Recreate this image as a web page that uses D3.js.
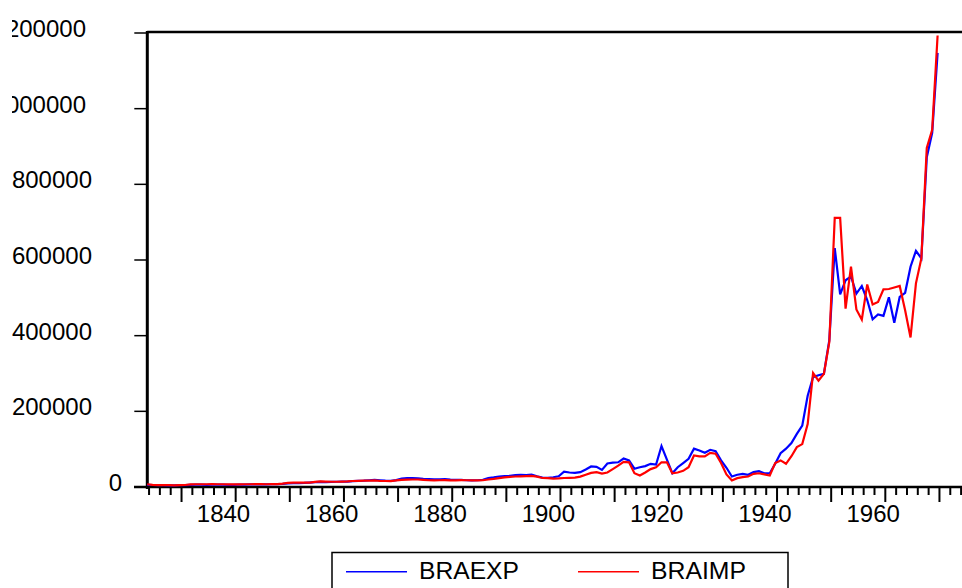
<!DOCTYPE html>
<html>
<head>
<meta charset="utf-8">
<script src="https://cdn.jsdelivr.net/npm/d3@7"></script>
<style>
  body { margin: 0; background: #fff; }
  svg { display: block; font-family: "Liberation Sans", Arial, sans-serif; }
</style>
</head>
<body>
<svg id="chart" width="962" height="588"></svg>
<script>
// data, one value per year 1826..1972
var firstYear = 1826;
var braexp = [
  4500, 4000, 3500, 3500, 3000, 3000, 3500, 3500, 4500, 5000,
  5000, 4500, 5000, 5000, 5000, 4500, 4500, 5000, 5000, 5500,
  5500, 6000, 5500, 6000, 6500, 7000, 8000, 9000, 9000, 9500,
  10500, 11500, 12000, 11500, 12000, 12500, 13000, 13000, 14000, 15000,
  15500, 16500, 17500, 16500, 15500, 15000, 17000, 21000, 22000, 22000,
  21500, 20000, 19500, 19000, 19000, 19500, 18000, 17500, 17500, 16500,
  16000, 16500, 17500, 22000, 24000, 26500, 27500, 28000, 30000, 31000,
  30000, 31500, 27000, 23500, 23000, 24500, 27000, 39000, 37000, 36000,
  38000, 45000, 53000, 52000, 44000, 61000, 63000, 64000, 74000, 69000,
  47000, 51000, 54000, 60000, 58000, 107000, 71000, 35000, 51000, 62000,
  73000, 100000, 95000, 89000, 97000, 93500, 69000, 49500, 26500, 31000,
  33500, 31000, 38000, 40500, 35000, 35000, 60000, 88000, 100000, 115000,
  139000, 161000, 240000, 289000, 294000, 298000, 387000, 630000, 508000, 545000,
  555000, 510000, 530000, 493000, 442000, 455000, 451000, 500000, 433000, 501000,
  512000, 581000, 623000, 603000, 870000, 935000, 1146000
];
var braimp = [
  6000, 4500, 3500, 3500, 3500, 3000, 3500, 4000, 5500, 6000,
  6000, 6000, 6500, 6000, 6000, 5500, 5500, 5500, 6000, 6000,
  6500, 6500, 6000, 6500, 6500, 7500, 9500, 10000, 10000, 10000,
  10500, 12000, 13500, 13000, 12500, 12500, 13000, 13500, 14500, 15000,
  15500, 15500, 16000, 15000, 14500, 14000, 16000, 17500, 18000, 18500,
  18500, 17500, 16500, 16000, 16500, 17000, 16000, 16000, 17000, 16500,
  16000, 16000, 16500, 18500, 20000, 22000, 24000, 25500, 26500, 27000,
  27500, 28000, 26000, 22500, 22000, 21000, 21500, 22500, 23000, 23500,
  26000, 31000, 36000, 38000, 34000, 37000, 46000, 55000, 65000, 64000,
  35000, 29000, 37000, 46000, 51000, 64000, 64000, 35000, 37000, 41500,
  51000, 82000, 79500, 79500, 89000, 86500, 62000, 32000, 16000, 22000,
  24700, 26500, 33500, 35000, 32000, 29000, 62000, 69000, 60000, 80000,
  104000, 112000, 165000, 300000, 280000, 298000, 382000, 710000, 710000, 470000,
  581000, 468000, 441000, 534000, 481000, 488000, 521000, 522000, 526000, 530000,
  466000, 394000, 537000, 603000, 895000, 943000, 1192000
];
var seriesNames = ["BRAEXP", "BRAIMP"];
var seriesColors = ["#0000ff", "#ff0000"];
var yTicks = [0, 200000, 400000, 600000, 800000, 1000000, 1200000];
var xLabels = [1840, 1860, 1880, 1900, 1920, 1940, 1960];

var svg = d3.select("#chart");

var x = d3.scaleLinear().domain([1826, 1972]).range([147.2, 937.6]);
var y = d3.scaleLinear().domain([0, 1200000]).range([486.5, 32.5]);

// small ticks every 2 years, big ones every 10
var tickYears = [];
for (var t = 1826; t <= 1978; t += 2) tickYears.push(t + 0.25);

var rows = braexp.map(function(v, i) {
    return { year: firstYear + i, exp: v, imp: braimp[i] };
});

// the original picture is cut on its left side
svg.append("clipPath").attr("id", "leftcut")
    .append("rect").attr("x", 12).attr("y", 0).attr("width", 950).attr("height", 588);

// frame: top border
svg.append("line")
    .attr("x1", x.range()[0]).attr("x2", 962)
    .attr("y1", y(1200000) - 0.5).attr("y2", y(1200000) - 0.5)
    .attr("stroke", "#000").attr("stroke-width", 2.5);

// y axis
var yAxis = svg.append("g")
    .attr("clip-path", "url(#leftcut)")
    .append("g")
    .attr("transform", "translate(" + 147.3 + ",0)")
    .call(d3.axisLeft(y).tickValues(yTicks).tickSize(13).tickFormat(d3.format("d")));
yAxis.select(".domain").remove();
yAxis.selectAll(".tick line").attr("stroke", "#000").attr("stroke-width", 1.5);
yAxis.selectAll(".tick text")
    .attr("font-size", 24)
    .attr("fill", "#000")
    .attr("dy", null)
    .attr("y", 4)
    .attr("x", function(d) { var n = String(d).length; return 128 - 6 * n - 147.3; });
svg.append("line")
    .attr("x1", 147.3).attr("x2", 147.3)
    .attr("y1", 31).attr("y2", 489)
    .attr("stroke", "#000").attr("stroke-width", 3);

// x axis ticks
var xAxis = svg.append("g")
    .attr("transform", "translate(0," + 487 + ")")
    .call(d3.axisBottom(x).tickValues(tickYears).tickSize(8).tickFormat(""));
xAxis.select(".domain").remove();
xAxis.selectAll(".tick line")
    .attr("stroke", "#000").attr("stroke-width", 2)
    .attr("y2", function(d) { return (Math.round(d - 0.25) - 1832) % 10 === 0 ? 15 : 8; });
svg.append("line")
    .attr("x1", 134).attr("x2", 962)
    .attr("y1", 487).attr("y2", 487)
    .attr("stroke", "#000").attr("stroke-width", 2.5);

// x labels
var xLab = svg.append("g")
    .attr("transform", "translate(0," + 487 + ")")
    .call(d3.axisBottom(x).tickValues(xLabels).tickSize(0).tickFormat(d3.format("d")));
xLab.select(".domain").remove();
xLab.selectAll(".tick text")
    .attr("font-size", 24).attr("fill", "#000")
    .attr("dy", null).attr("y", 34.5);

// lines
var keys = ["exp", "imp"];
keys.forEach(function(k, i) {
    var line = d3.line()
        .x(function(d) { return x(d.year); })
        .y(function(d) { return y(d[k]); });
    svg.append("path")
        .datum(rows)
        .attr("d", line)
        .attr("fill", "none")
        .attr("stroke", seriesColors[i])
        .attr("stroke-width", 2.2)
        .attr("stroke-linejoin", "miter");
});

// legend
var legend = svg.append("g");
legend.append("rect")
    .attr("x", 332).attr("y", 552.5)
    .attr("width", 456).attr("height", 60)
    .attr("fill", "none").attr("stroke", "#000").attr("stroke-width", 1.5);
var legX = [346, 578];
seriesNames.forEach(function(name, i) {
    legend.append("line")
        .attr("x1", legX[i]).attr("x2", legX[i] + 61)
        .attr("y1", 571.7).attr("y2", 571.7)
        .attr("stroke", seriesColors[i]).attr("stroke-width", 1.5);
    legend.append("text")
        .attr("x", legX[i] + 73).attr("y", 579)
        .attr("font-size", 23)
        .attr("textLength", i === 0 ? 100 : 95)
        .attr("lengthAdjust", "spacingAndGlyphs")
        .text(name);
});
</script>
</body>
</html>
